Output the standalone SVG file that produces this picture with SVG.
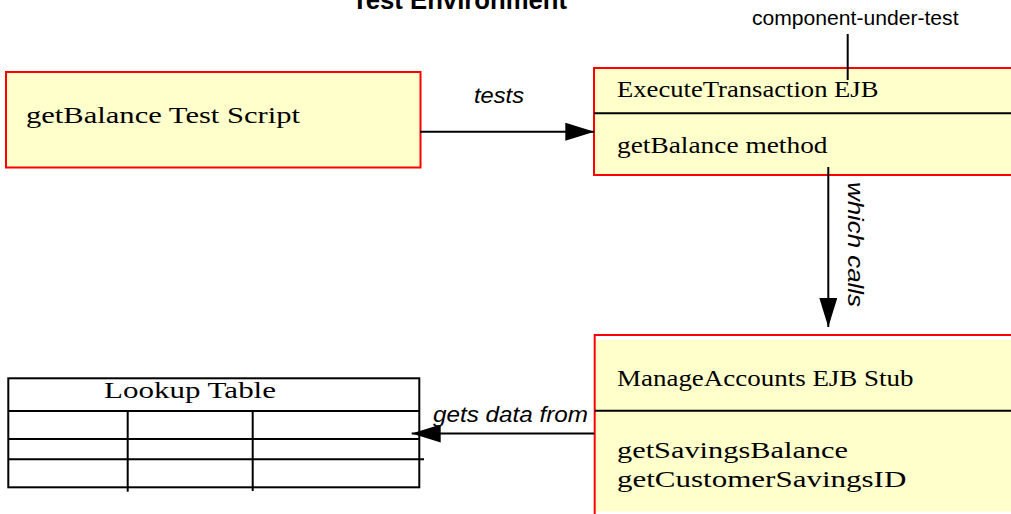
<svg xmlns="http://www.w3.org/2000/svg" width="1011" height="514" viewBox="0 0 1011 514">
<style>
.box{fill:#FFFFCC;stroke:#FF0000;stroke-width:2}
.ln{stroke:#000;stroke-width:2;fill:none}
.red{stroke:#FF0000;stroke-width:2;fill:none}
.serif{font-family:"Liberation Serif","Times New Roman",serif;font-size:23px;fill:#000}
.lbl{font-family:"Liberation Sans",Arial,sans-serif;font-size:22px;font-style:italic;fill:#000}
.sans{font-family:"Liberation Sans",Arial,sans-serif;font-size:20px;fill:#000}
.title{font-family:"Liberation Sans",Arial,sans-serif;font-size:25px;font-weight:bold;fill:#000}
</style>
<defs>
<marker id="ah" markerWidth="30" markerHeight="18" refX="29" refY="9" orient="auto" markerUnits="userSpaceOnUse">
<path d="M0,0 L29,9 L0,18 Z" fill="#000"/>
</marker>
</defs>
<rect width="1011" height="514" fill="#fff"/>
<text class="title" x="352" y="9" textLength="215" lengthAdjust="spacingAndGlyphs">Test Environment</text>

<g id="test-script">
<rect class="box" x="6" y="72" width="414.5" height="95.5"/>
<text class="serif" x="26" y="123.3" textLength="274" lengthAdjust="spacingAndGlyphs">getBalance Test Script</text>
</g>

<g id="execute-transaction">
<rect x="594" y="68" width="417" height="107" fill="#FFFFCC"/>
<path class="red" d="M1012,68 H594 V175 H1012"/>
<line class="ln" x1="594" y1="113.3" x2="1011" y2="113.3"/>
<text class="serif" x="617" y="97.3" textLength="261.5" lengthAdjust="spacingAndGlyphs">ExecuteTransaction EJB</text>
<text class="serif" x="617" y="153" textLength="210.5" lengthAdjust="spacingAndGlyphs">getBalance method</text>
</g>

<g id="component-under-test">
<text class="sans" x="752" y="25" textLength="206.5" lengthAdjust="spacingAndGlyphs">component-under-test</text>
<line class="ln" x1="847.7" y1="34" x2="847.7" y2="80"/>
</g>

<g id="manage-accounts">
<rect x="596" y="340" width="415" height="171.5" fill="#FFFFCC"/>
<path class="red" d="M1012,335 H594.7 V514"/>
<line class="ln" x1="594.7" y1="410.7" x2="1011" y2="410.7"/>
<text class="serif" x="617" y="385.7" textLength="296.5" lengthAdjust="spacingAndGlyphs">ManageAccounts EJB Stub</text>
<text class="serif" x="617" y="458.3" font-size="25" textLength="231" lengthAdjust="spacingAndGlyphs">getSavingsBalance</text>
<text class="serif" x="617" y="486.7" font-size="25" textLength="289.3" lengthAdjust="spacingAndGlyphs">getCustomerSavingsID</text>
</g>

<g id="lookup-table">
<rect class="ln" x="8.3" y="378.3" width="411" height="109"/>
<line class="ln" x1="8.3" y1="411" x2="419.3" y2="411"/>
<line class="ln" x1="8.3" y1="439" x2="419.3" y2="439"/>
<line class="ln" x1="8.3" y1="459.3" x2="424" y2="459.3"/>
<line class="ln" x1="127.7" y1="411" x2="127.7" y2="491.7"/>
<line class="ln" x1="252.7" y1="411" x2="252.7" y2="491"/>
<text class="serif" x="104" y="398.3" textLength="172" lengthAdjust="spacingAndGlyphs">Lookup Table</text>
</g>

<g id="connectors">
<line class="ln" x1="420" y1="131.7" x2="594.3" y2="131.7" marker-end="url(#ah)"/>
<text class="lbl" x="474" y="103.3" textLength="50" lengthAdjust="spacingAndGlyphs">tests</text>
<line class="ln" x1="828.3" y1="167" x2="828.3" y2="327" marker-end="url(#ah)"/>
<text class="lbl" transform="translate(848,182) rotate(90)" textLength="125" lengthAdjust="spacingAndGlyphs">which calls</text>
<line class="ln" x1="594.3" y1="433.5" x2="411.7" y2="433.5" marker-end="url(#ah)"/>
<text class="lbl" x="433" y="421.7" textLength="155" lengthAdjust="spacingAndGlyphs">gets data from</text>
</g>
</svg>
